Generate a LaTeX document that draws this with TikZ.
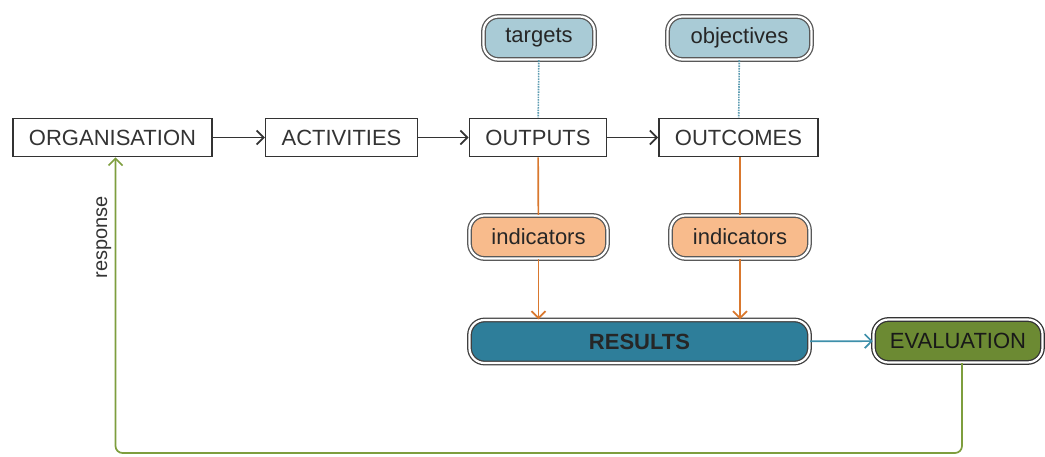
\documentclass[tikz,border=0pt]{standalone}
\usepackage{fontspec}
\setmainfont{Liberation Sans}
\usetikzlibrary{
  arrows.meta,  % Straight Barb arrow tips
  positioning   % relative placement
}

\definecolor{tgtblue}{HTML}{A9CBD6}
\definecolor{indpeach}{HTML}{F8BB8C}
\definecolor{restea}{HTML}{2E7E9A}
\definecolor{evalgreen}{HTML}{6C8A33}
\definecolor{linkorange}{HTML}{D9782E}
\definecolor{linkgreen}{HTML}{7E9E3E}
\definecolor{linkblue}{HTML}{3E8FAA}
\definecolor{dotblue}{HTML}{5E9DB2}

\begin{document}
\begin{tikzpicture}[x=1pt, y=-1pt, font=\fontsize{22}{24}\selectfont,
  stage/.style={draw=black!80, line width=1.6pt, inner xsep=16pt,
    minimum height=38pt, text=black!80},
  pill/.style={draw=black!65, line width=1.3pt, double=white,
    double distance=2.2pt, rounded corners=15pt, minimum height=43pt,
    text=black!85},
  flow/.style={-{Straight Barb[length=7pt,width=14pt]}, line width=1.7pt}]
  \useasboundingbox (0,0) rectangle (1045,457);

  % === main chain ===
  \node[stage] (org) at (112.5,137.5) {ORGANISATION};
  \node[stage] (act) at (341.5,137.5) {ACTIVITIES};
  \node[stage] (out) at (538,137.5) {OUTPUTS};
  \node[stage] (outc) at (738.5,137.5) {OUTCOMES};

  \draw[flow, black!80] (org) -- (act);
  \draw[flow, black!80] (act) -- (out);
  \draw[flow, black!80] (out) -- (outc);

  % === targets and objectives ===
  \node[pill, fill=tgtblue, minimum width=111pt] (tgt) at (539,38) {targets};
  \node[pill, fill=tgtblue, minimum width=144pt] (obj) at (739.5,38) {objectives};

  \draw[dotblue, densely dotted, line width=1.6pt] (tgt) -- (out);
  \draw[dotblue, densely dotted, line width=1.6pt] (obj) -- (outc);

  % === indicators ===
  \node[pill, fill=indpeach, minimum width=138pt] (ind1) at (538.5,237) {indicators};
  \node[pill, fill=indpeach, minimum width=139pt] (ind2) at (740,237) {indicators};

  \draw[linkorange, line width=1.7pt] (out) -- (ind1);
  \draw[linkorange, line width=1.7pt] (outc.south -| ind2) -- (ind2);

  % === results and evaluation ===
  \node[pill, fill=restea, draw=black!75, minimum width=340pt,
    font=\fontsize{22}{24}\selectfont\bfseries, text=black!85] (res) at (639.5,341.5) {RESULTS};
  \node[pill, fill=evalgreen, draw=black!80, minimum width=169pt,
    text=black!90] (eval) at (958,341) {EVALUATION};

  \draw[flow, linkorange] (ind1) -- (ind1.south |- res.north);
  \draw[flow, linkorange] (ind2) -- (ind2.south |- res.north);
  \draw[flow, linkblue] (res) -- (eval);

  % === feedback loop ===
  \coordinate (loopbase) at (0,453);
  \draw[flow, linkgreen, rounded corners=7pt]
    ([xshift=4pt]eval.south) |- ([xshift=3pt]loopbase -| org.south)
    -- node[pos=0.73, above, rotate=90, font=\fontsize{20}{22}\selectfont,
      text=black!80] {response} ([xshift=3pt]org.south);
\end{tikzpicture}
\end{document}
